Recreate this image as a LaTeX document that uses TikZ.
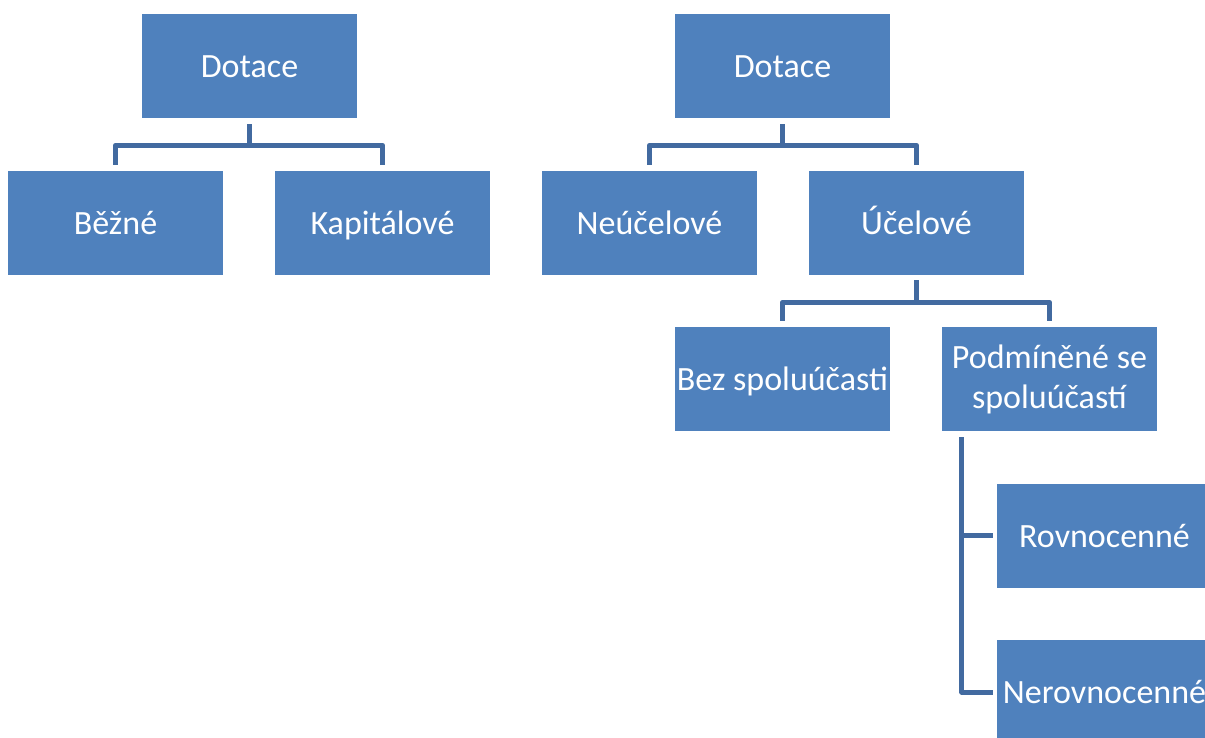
\documentclass[tikz,border=0pt]{standalone}
\usepackage{fontspec}
\setmainfont{Carlito}
\definecolor{boxblue}{RGB}{79,129,189}
\definecolor{lineblue}{RGB}{66,106,160}
\tikzset{
  boxbase/.style={fill=boxblue, draw=none, minimum width=215pt, minimum height=104pt, inner sep=0pt,
    text=white, font=\fontsize{34}{40}\selectfont, align=center},
  box/.style={boxbase, text height=28pt, text depth=5pt},
  conn/.style={draw=lineblue, line width=5pt, line join=round}
}
\begin{document}
\begin{tikzpicture}[x=1pt,y=1pt]
\useasboundingbox (0,0) rectangle (1205,-737);
\clip (0,0) rectangle (1205,-737);
% left tree
\node[box] (d1) at (249.5,-66) {Dotace};
\node[box] (b) at (115.5,-223) {Běžné};
\node[box] (k) at (382.5,-223) {Kapitálové};
% right tree
\node[box] (d2) at (782.5,-66) {Dotace};
\node[box] (n) at (649.5,-223) {Neúčelové};
\node[box] (u) at (916.5,-223) {Účelové};
\node[box] (bs) at (782.5,-379) {Bez spoluúčasti};
\node[boxbase] (p) at (1049.5,-379) {Podmíněné se\\spoluúčastí};
\node[box] (r) at (1104.5,-535.5) {Rovnocenné};
\node[box] (nr) at (1104.5,-692) {Nerovnocenné};
% connectors
\draw[conn] ([yshift=-6pt]d1.south) -- ([yshift=-27pt]d1.south);
\draw[conn] ([yshift=6pt]b.north) |- ([yshift=-27pt]d1.south) -| ([yshift=6pt]k.north);
\draw[conn] ([yshift=-6pt]d2.south) -- ([yshift=-27pt]d2.south);
\draw[conn] ([yshift=6pt]n.north) |- ([yshift=-27pt]d2.south) -| ([yshift=6pt]u.north);
\draw[conn] ([yshift=-5pt]u.south) -- ([yshift=-27pt]u.south);
\draw[conn] ([yshift=6pt]bs.north) |- ([yshift=-27pt]u.south) -| ([yshift=6pt]p.north);
\draw[conn] ([xshift=20pt,yshift=-6pt]p.south west) |- ([xshift=-4pt]nr.west);
\draw[conn] ([xshift=20pt]p.south west |- r.west) -- ([xshift=-4pt]r.west);
\end{tikzpicture}
\end{document}
